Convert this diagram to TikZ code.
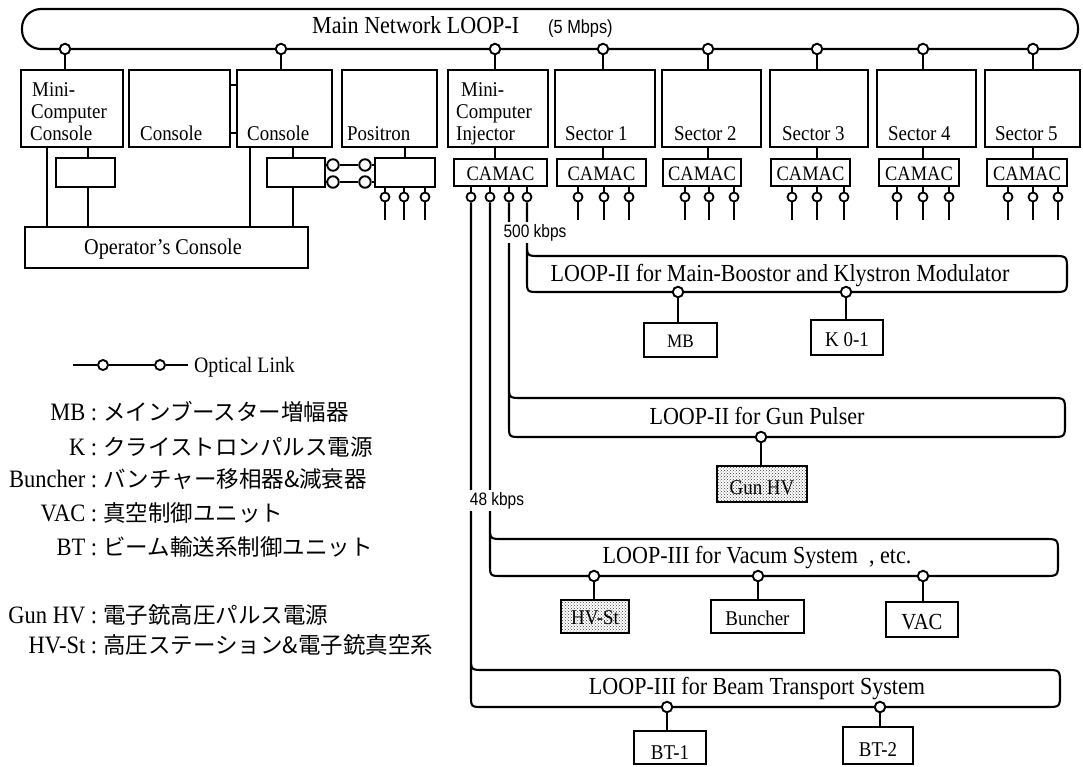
\documentclass[tikz,border=0pt]{standalone}
\usepackage{fontspec}
\setmainfont{Liberation Serif}[FakeStretch=0.9]
\newfontfamily\jpfont{Noto Sans CJK JP}
\newfontfamily\hfont{Liberation Sans}[FakeStretch=0.86]
\usetikzlibrary{patterns}
\newcommand\fs[1]{\fontsize{#1}{#1}\selectfont}
\newcommand\subloop[5]{%
  \draw[ln] (#1.south) -- (#2,#4-12) .. controls (#2,#4) .. (#2+12,#4) -- (#5-14,#4)
    .. controls (#5,#4) .. (#5,#4-14) -- (#5,#3+14) .. controls (#5,#3) .. (#5-14,#3)
    -- (#2+13,#3) .. controls (#2,#3) .. (#2,#3-13);}
\newcommand\ctap[3]{%
  \node[stap] (#1) at (#2,197) {};
  \draw[ln] (#3.south -| #1) -- (#1.north);
  \coordinate (#1e) at (#2,220);
  \draw[ln] (#1.south) -- (#1e);}
\newcommand\lgline[4]{%
  \node[leg] (#1) at (7,#2) {\makebox[90pt][r]{#3}\hspace{6pt}{\jpfont\fs{22.5}#4}};}
\begin{document}
\begin{tikzpicture}[x=1pt,y=-1pt,
  ln/.style={line width=2.1pt},
  bx/.style={draw,line width=2.1pt,inner sep=0pt},
  dbx/.style={bx,pattern=crosshatch dots,pattern color=black!75},
  tap/.style={circle,draw,line width=1.9pt,fill=white,inner sep=0pt,minimum size=10.5pt},
  stap/.style={circle,draw,line width=1.8pt,fill=white,inner sep=0pt,minimum size=9pt},
  otap/.style={circle,draw,line width=1.9pt,fill=white,inner sep=0pt,minimum size=11.5pt},
  tl/.style={inner sep=0pt,anchor=base west,font=\fs{21}},
  tc/.style={inner sep=0pt,anchor=base,font=\fs{21}},
  ll/.style={inner sep=0pt,anchor=base,font=\fs{24.5}},
  rate/.style={inner sep=2pt,anchor=base,fill=white,font=\hfont\fs{18}},
  leg/.style={inner sep=0pt,anchor=base west,font=\fs{25}},
]
\fill[white] (0,0) rectangle (1083,766);
\useasboundingbox (0,0) rectangle (1083,766);

% ---------- main loop ----------
\draw[ln,rounded corners=19] (22,9) rectangle (1078,49);
\node[ll,anchor=base west] (mtitle) at (312,33) {Main Network LOOP-I};
\node[inner sep=0pt,anchor=base west,font=\hfont\fs{19}] (mrate) at (548,33) {(5 Mbps)};

% ---------- top boxes ----------
\node[bx,minimum width=102pt,minimum height=77pt] (mcc) at (72,108.5) {};
\node[bx,minimum width=101pt,minimum height=77pt] (con2) at (179.5,108.5) {};
\node[bx,minimum width=95pt,minimum height=77pt] (con3) at (284.5,108.5) {};
\node[bx,minimum width=95pt,minimum height=77pt] (pos) at (389.5,108.5) {};
\node[bx,minimum width=100pt,minimum height=77pt] (inj) at (498,108.5) {};
\node[bx,minimum width=100pt,minimum height=77pt] (s1) at (605,108.5) {};
\node[bx,minimum width=99pt,minimum height=77pt] (s2) at (711.5,108.5) {};
\node[bx,minimum width=98pt,minimum height=77pt] (s3) at (819,108.5) {};
\node[bx,minimum width=99pt,minimum height=77pt] (s4) at (926.5,108.5) {};
\node[bx,minimum width=95pt,minimum height=77pt] (s5) at (1032.5,108.5) {};

\node[tl] (tmcc1) at (32,96) {Mini-};
\node[tl] (tmcc2) at (31,118) {Computer};
\node[tl] (tmcc3) at (30,140) {Console};
\node[tl] (tcon2) at (140,140) {Console};
\node[tl] (tcon3) at (247,140) {Console};
\node[tl] (tpos) at (347,140) {Positron};
\node[tl] (tinj1) at (461,96) {Mini-};
\node[tl] (tinj2) at (456,118) {Computer};
\node[tl] (tinj3) at (456,140) {Injector};
\node[tl] (ts1) at (565,140) {Sector 1};
\node[tl] (ts2) at (674,140) {Sector 2};
\node[tl] (ts3) at (782,140) {Sector 3};
\node[tl] (ts4) at (888,140) {Sector 4};
\node[tl] (ts5) at (995,140) {Sector 5};

% main loop taps
\node[tap] (m1) at (65,49) {};
\node[tap] (m2) at (281,49) {};
\node[tap] (m3) at (495,49) {};
\node[tap] (m4) at (603,49) {};
\node[tap] (m5) at (708,49) {};
\node[tap] (m6) at (817,49) {};
\node[tap] (m7) at (923,49) {};
\node[tap] (m8) at (1033,49) {};
\draw[ln] (m1.south) -- (m1.south |- mcc.north);
\draw[ln] (m2.south) -- (m2.south |- con3.north);
\draw[ln] (m3.south) -- (m3.south |- inj.north);
\draw[ln] (m4.south) -- (m4.south |- s1.north);
\draw[ln] (m5.south) -- (m5.south |- s2.north);
\draw[ln] (m6.south) -- (m6.south |- s3.north);
\draw[ln] (m7.south) -- (m7.south |- s4.north);
\draw[ln] (m8.south) -- (m8.south |- s5.north);

% console links
\draw[ln] ([yshift=23.5pt]con2.east) -- ([yshift=23.5pt]con3.west);
\draw[ln] ([yshift=-24.5pt]con2.east) -- ([yshift=-24.5pt]con3.west);

% ---------- left lower part ----------
\node[bx,minimum width=59pt,minimum height=29pt] (sb1) at (85.5,172.5) {};
\node[bx,minimum width=58pt,minimum height=29pt] (sb2) at (296,172.5) {};
\node[bx,minimum width=60pt,minimum height=29pt] (sb3) at (405,172.5) {};
\node[bx,minimum width=283pt,minimum height=41pt] (op) at (166.5,247.5) {};
\node[tc,font=\fs{22.5}] (top) at (163,254) {Operator's Console};

\coordinate (va) at (47,0);
\coordinate (vb) at (88,0);
\coordinate (vc) at (250,0);
\coordinate (vd) at (293,0);
\coordinate (ve) at (405,0);
\draw[ln] (mcc.south -| va) -- (op.north -| va);
\draw[ln] (mcc.south -| vb) -- (sb1.north -| vb);
\draw[ln] (sb1.south -| vb) -- (op.north -| vb);
\draw[ln] (con3.south -| vc) -- (op.north -| vc);
\draw[ln] (con3.south -| vd) -- (sb2.north -| vd);
\draw[ln] (sb2.south -| vd) -- (op.north -| vd);
\draw[ln] (pos.south -| ve) -- (sb3.north -| ve);

% optical links
\node[otap] (o1) at (333,165) {};
\node[otap] (o2) at (365,165) {};
\node[otap] (o3) at (333,182) {};
\node[otap] (o4) at (365,182) {};
\draw[ln] (sb2.east |- o1) -- (o1) -- (o2) -- (sb3.west |- o2);
\draw[ln] (sb2.east |- o3) -- (o3) -- (o4) -- (sb3.west |- o4);

\ctap{p1}{385}{sb3}
\ctap{p2}{404}{sb3}
\ctap{p3}{425}{sb3}

% ---------- CAMAC ----------
\node[bx,minimum width=93pt,minimum height=27pt] (c0) at (500.5,172.5) {};
\node[bx,minimum width=89pt,minimum height=27pt] (c1) at (601.5,172.5) {};
\node[bx,minimum width=78pt,minimum height=27pt] (c2) at (702,172.5) {};
\node[bx,minimum width=79pt,minimum height=27pt] (c3) at (810.5,172.5) {};
\node[bx,minimum width=80pt,minimum height=27pt] (c4) at (919,172.5) {};
\node[bx,minimum width=80pt,minimum height=27pt] (c5) at (1027,172.5) {};
\foreach \n in {0,...,5} {\node[tc,font=\fs{20.5}] (tc\n) at ([yshift=-7.5pt]c\n.center) {CAMAC};}

\draw[ln] (inj.south -| m3) -- (c0.north -| m3);
\draw[ln] (s1.south -| m4) -- (c1.north -| m4);
\draw[ln] (s2.south -| m5) -- (c2.north -| m5);
\draw[ln] (s3.south -| m6) -- (c3.north -| m6);
\draw[ln] (s4.south -| m7) -- (c4.north -| m7);
\draw[ln] (s5.south -| m8) -- (c5.north -| m8);

\ctap{a1}{578}{c1} \ctap{a2}{604}{c1} \ctap{a3}{629}{c1}
\ctap{b1}{685}{c2} \ctap{b2}{709}{c2} \ctap{b3}{734}{c2}
\ctap{d1}{792}{c3} \ctap{d2}{817}{c3} \ctap{d3}{844}{c3}
\ctap{e1}{897}{c4} \ctap{e2}{923}{c4} \ctap{e3}{949}{c4}
\ctap{f1}{1008}{c5} \ctap{f2}{1033}{c5} \ctap{f3}{1058}{c5}

% injector taps
\node[stap] (i1) at (471,197) {};
\node[stap] (i2) at (490,197) {};
\node[stap] (i3) at (509,197) {};
\node[stap] (i4) at (527,197) {};
\foreach \n in {1,...,4} {\draw[ln] (c0.south -| i\n) -- (i\n.north);}

% ---------- sub loops ----------
\subloop{i4}{527}{256}{292}{1067}
\subloop{i3}{509}{398}{437}{1065}
\subloop{i2}{490}{539}{576}{1058}
\subloop{i1}{471}{670}{707}{1060}

\node[ll] (lab1) at (780,281) {LOOP-II for Main-Boostor and Klystron Modulator};
\node[ll] (lab2) at (757,424) {LOOP-II for Gun Pulser};
\node[ll] (lab3) at (757,563) {LOOP-III for Vacum System\ \ , etc.};
\node[ll] (lab4) at (757,694) {LOOP-III for Beam Transport System};

\node[rate] (r1) at (535,237) {500 kbps};
\node[rate] (r2) at (497,505) {48 kbps};

% sub boxes
\node[bx,minimum width=73pt,minimum height=34pt] (mb) at (680.5,340) {};
\node[bx,minimum width=72pt,minimum height=35pt] (k01) at (847,337.5) {};
\node[dbx,minimum width=90pt,minimum height=36pt] (gun) at (762,484) {};
\node[dbx,minimum width=68pt,minimum height=33pt] (hvst) at (595,616.5) {};
\node[bx,minimum width=93pt,minimum height=33pt] (bun) at (757.5,616.5) {};
\node[bx,minimum width=72pt,minimum height=35pt] (vac) at (922,619.5) {};
\node[bx,minimum width=72pt,minimum height=33pt] (bt1) at (670,747.5) {};
\node[bx,minimum width=70pt,minimum height=37pt] (bt2) at (878,745.5) {};

\node[tc,font=\fs{19}] (tmb) at (680.5,347) {MB};
\node[tc] (tk) at (847,346) {K 0-1};
\node[tc] (tgun) at (762,494) {Gun HV};
\node[tc] (thv) at (595,624) {HV-St};
\node[tc] (tbun) at (757.5,625) {Buncher};
\node[tc,font=\fs{23}] (tvac) at (922,629) {VAC};
\node[tc] (tbt1) at (670,759) {BT-1};
\node[tc] (tbt2) at (878,756) {BT-2};

% loop taps
\node[tap] (t1) at (678,292) {};
\node[tap] (t2) at (846,292) {};
\node[tap] (t3) at (761,437) {};
\node[tap] (t4) at (594,576) {};
\node[tap] (t5) at (758,576) {};
\node[tap] (t6) at (923,576) {};
\node[tap] (t7) at (667,707) {};
\node[tap] (t8) at (880,707) {};
\draw[ln] (t1.south) -- (t1.south |- mb.north);
\draw[ln] (t2.south) -- (t2.south |- k01.north);
\draw[ln] (t3.south) -- (t3.south |- gun.north);
\draw[ln] (t4.south) -- (t4.south |- hvst.north);
\draw[ln] (t5.south) -- (t5.south |- bun.north);
\draw[ln] (t6.south) -- (t6.south |- vac.north);
\draw[ln] (t7.south) -- (t7.south |- bt1.north);
\draw[ln] (t8.south) -- (t8.south |- bt2.north);

% ---------- legend ----------
\coordinate (ola) at (73,365);
\node[otap,minimum size=10pt] (ol1) at (103,365) {};
\node[otap,minimum size=10pt] (ol2) at (160,365) {};
\coordinate (olb) at (188,365);
\draw[ln] (ola) -- (ol1) -- (ol2) -- (olb);
\node[leg,font=\fs{22}] (oltxt) at (194,372) {Optical Link};

\lgline{lg1}{420}{MB :}{メインブースター増幅器}
\lgline{lg2}{455}{K :}{クライストロンパルス電源}
\lgline{lg3}{487}{Buncher :}{バンチャー移相器\&減衰器}
\lgline{lg4}{521}{VAC :}{真空制御ユニット}
\lgline{lg5}{555}{BT :}{ビーム輸送系制御ユニット}
\lgline{lg6}{623}{Gun HV :}{電子銃高圧パルス電源}
\lgline{lg7}{653}{HV-St :}{高圧ステーション\&電子銃真空系}
\end{tikzpicture}
\end{document}
